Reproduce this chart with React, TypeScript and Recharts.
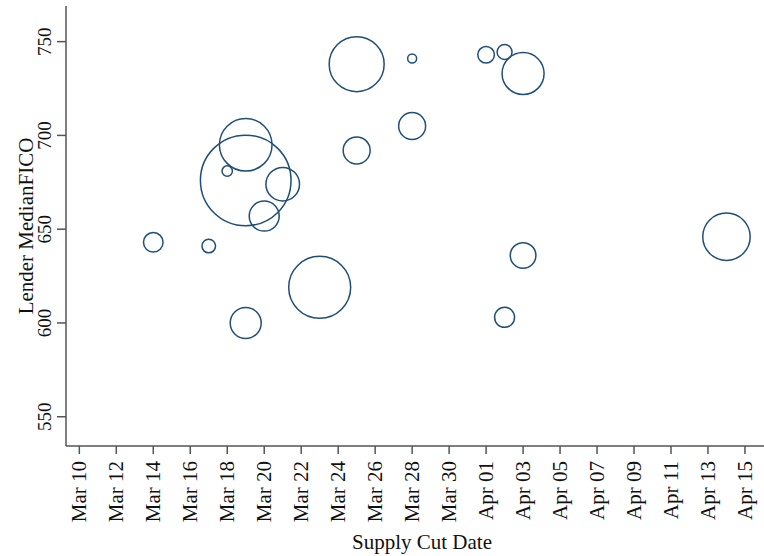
import { ScatterChart, Scatter, XAxis, YAxis, ZAxis, Label } from "recharts";

// supply cut date per lender, median FICO, bubble weight (area)
const cutDates = [
  "2020-03-14", "2020-03-17", "2020-03-18", "2020-03-19", "2020-03-19",
  "2020-03-19", "2020-03-20", "2020-03-21", "2020-03-23", "2020-03-25",
  "2020-03-25", "2020-03-28", "2020-03-28", "2020-04-01", "2020-04-02",
  "2020-04-02", "2020-04-03", "2020-04-03", "2020-04-14",
];
const medianFico = [
  643, 641, 681, 695, 676, 600, 657, 674, 619, 738,
  692, 741, 705, 743, 744.5, 603, 733, 636, 646,
];
const weights = [
  96, 46, 27, 692, 2052, 240, 225, 282, 961, 756,
  182, 20, 182, 69, 56, 100, 441, 164, 562,
];

const xTickLabels = [
  "Mar 10", "Mar 12", "Mar 14", "Mar 16", "Mar 18", "Mar 20", "Mar 22",
  "Mar 24", "Mar 26", "Mar 28", "Mar 30", "Apr 01", "Apr 03", "Apr 05",
  "Apr 07", "Apr 09", "Apr 11", "Apr 13", "Apr 15",
];
const yTicks = [550, 600, 650, 700, 750];

const START = Date.parse("2020-03-10");
const DAY = 86400000;

const data = cutDates.map((d, i) => ({
  day: (Date.parse(d) - START) / DAY,
  fico: medianFico[i],
  w: weights[i],
}));
const xTicks = xTickLabels.map((_, i) => i * 2);

const FONT = "'Liberation Serif', 'Times New Roman', serif";
const INK = "#111";
const AXIS = "#555";
const BUBBLE = "#1f4e79";

const XTick = ({ x, y, payload }: any) => (
  <g transform={`translate(${x},${y})`}>
    <text
      transform="rotate(-90)"
      x={-7}
      y={0}
      dy="0.34em"
      textAnchor="end"
      fontFamily={FONT}
      fontSize={21}
      fill={INK}
    >
      {xTickLabels[Math.round(payload.value / 2)]}
    </text>
  </g>
);

const YTick = ({ x, y, payload }: any) => (
  <g transform={`translate(${x},${y})`}>
    <text
      transform="rotate(-90)"
      x={0}
      y={-6}
      textAnchor="middle"
      fontFamily={FONT}
      fontSize={19}
      fill={INK}
    >
      {payload.value}
    </text>
  </g>
);

export default function App() {
  return (
    <div style={{ position: "absolute", left: 0, top: 0, background: "#fff" }}>
      <ScatterChart
        width={764}
        height={556}
        margin={{ top: 6, right: 0, bottom: 0, left: 0 }}
      >
        <XAxis
          type="number"
          dataKey="day"
          domain={[-0.72, 37.03]}
          allowDataOverflow
          ticks={xTicks}
          tick={<XTick />}
          tickSize={8}
          tickMargin={0}
          height={110}
          axisLine={{ stroke: AXIS, strokeWidth: 1.5 }}
          tickLine={{ stroke: AXIS, strokeWidth: 1.5 }}
          interval={0}
        >
          <Label
            content={() => (
              <text
                x={422}
                y={549}
                textAnchor="middle"
                fontFamily={FONT}
                fontSize={21}
                fill={INK}
              >
                Supply Cut Date
              </text>
            )}
          />
        </XAxis>
        <YAxis
          type="number"
          dataKey="fico"
          domain={[534.4, 769.0]}
          allowDataOverflow
          ticks={yTicks}
          tick={<YTick />}
          tickSize={9}
          tickMargin={0}
          width={66}
          axisLine={{ stroke: AXIS, strokeWidth: 1.5 }}
          tickLine={{ stroke: AXIS, strokeWidth: 1.5 }}
          interval={0}
        >
          <Label
            content={() => (
              <text
                x={33}
                y={226}
                transform="rotate(-90, 33, 226)"
                textAnchor="middle"
                fontFamily={FONT}
                fontSize={21}
                fill={INK}
              >
                Lender MedianFICO
              </text>
            )}
          />
        </YAxis>
        <ZAxis type="number" dataKey="w" domain={[0, 2100]} range={[0, Math.PI * 2100]} />
        <Scatter
          data={data}
          shape="circle"
          fill="none"
          stroke={BUBBLE}
          strokeWidth={1.5}
          isAnimationActive={false}
        />
      </ScatterChart>
    </div>
  );
}
